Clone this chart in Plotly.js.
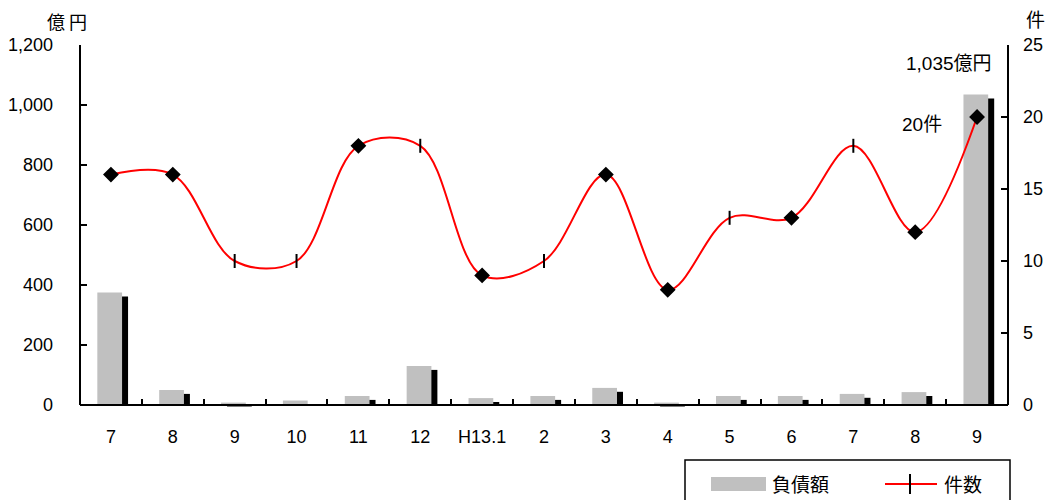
<!DOCTYPE html>
<html><head><meta charset="utf-8">
<script src="https://cdn.plot.ly/plotly-3.0.1.min.js"></script>
<style>body{margin:0;background:#fff}</style></head>
<body><div id="chart" style="width:1048px;height:500px"></div>
<script>
// ---- data ----
const months = ['7','8','9','10','11','12','H13.1','2','3','4','5','6','7','8','9'];
const debt = [375, 50, 8, 15, 30, 130, 23, 30, 57, 8, 30, 30, 37, 43, 1035];   // 負債額 (億円)
const counts = [16, 16, 10, 10, 18, 18, 9, 10, 16, 8, 13, 13, 18, 12, 20];      // 件数
const countSymbols = ['diamond','diamond','line-ns','line-ns','diamond','line-ns','diamond','line-ns','diamond','diamond','line-ns','diamond','line-ns','diamond','diamond'];
const leftTicks = [0, 200, 400, 600, 800, 1000, 1200];
const rightTicks = [0, 5, 10, 15, 20, 25];

// ---- geometry helpers (plot area in px) ----
const L = 80, R = 1008, T = 45, B = 411;
const W = R - L, H = B - T;
const px = x => (x - L) / W;
const py = y => (B - y) / H;
const idx = months.map((_, i) => i);
const shadowDrop = 13;           // shadow offset in 億円 (≈4px)
const shadow = debt.map(v => v - shadowDrop);

const FONT = 'Arial, "Liberation Sans", "Noto Sans CJK JP", sans-serif';
const JFONT = '"Noto Sans CJK JP", Arial, sans-serif';

const traces = [
  {type:'bar', x: idx, y: shadow, yaxis:'y', width:0.4, offset:-0.22 + 6/62,
   marker:{color:'#000', line:{width:0}}, showlegend:false, hoverinfo:'skip'},
  {type:'bar', x: idx, y: debt, yaxis:'y', width:0.4, offset:-0.22, name:'負債額',
   marker:{color:'#c0c0c0', line:{width:0}}, showlegend:false},
  {type:'scatter', mode:'lines+markers', x: idx, y: counts, yaxis:'y2', name:'件数',
   line:{color:'#ff0000', width:2, shape:'spline', smoothing:1},
   marker:{symbol: countSymbols, size:10, color:'#000', line:{color:'#000', width:2}},
   showlegend:false, cliponaxis:false}
];

const shapes = [
  {type:'line', xref:'paper', yref:'y', x0:0, x1:0, y0:0, y1:1200, line:{color:'#000', width:2}},
  {type:'line', xref:'paper', yref:'y2', x0:1, x1:1, y0:0, y1:25, line:{color:'#000', width:2}},
  // legend box
  {type:'rect', xref:'paper', yref:'paper', x0:px(685), x1:px(1010), y0:py(460), y1:py(510), line:{color:'#000', width:1.5}, fillcolor:'rgba(0,0,0,0)'},
  {type:'rect', xref:'paper', yref:'paper', x0:px(711), x1:px(766), y0:py(477), y1:py(491), line:{width:0}, fillcolor:'#c0c0c0'},
  {type:'line', xref:'paper', yref:'paper', x0:px(885), x1:px(937), y0:py(484), y1:py(484), line:{color:'#ff0000', width:2}},
  {type:'line', xref:'paper', yref:'paper', x0:px(910), x1:px(910), y0:py(474), y1:py(494), line:{color:'#000', width:2}}
];

const ann = (x, y, text, family, size, xanchor) => ({xref:'paper', yref:'paper', x:px(x), y:py(y), text,
  showarrow:false, xanchor: xanchor || 'center', yanchor:'middle', font:{family, size, color:'#000'}});

const annotations = [
  ann(67, 21, '億 円', JFONT, 18),
  ann(1035, 18, '件', JFONT, 19),
  ann(949, 64, '1,035億円', FONT, 19),
  ann(922, 124, '20件', FONT, 19),
  ann(770, 484, '負債額', JFONT, 19, 'left'),
  ann(942, 484, '件数', JFONT, 19, 'left')
];

const layout = {
  width:1048, height:500,
  margin:{l:L, r:1048-R, t:T, b:500-B, pad:0},
  paper_bgcolor:'#fff', plot_bgcolor:'#fff',
  barmode:'overlay', showlegend:false,
  font:{family:FONT, size:18, color:'#000'},
  xaxis:{range:[-0.5, 14.5], tickmode:'array', tickvals: idx, ticktext: months,
    ticks:'', showgrid:false, zeroline:false, showline:true, linecolor:'#000', linewidth:2,
    anchor:'free', position: 6/H,
    minor:{tick0:0.5, dtick:1, ticks:'inside', ticklen:5, tickwidth:2, tickcolor:'#000', showgrid:false},
    tickfont:{size:18}, ticklabelstandoff:15},
  yaxis:{range:[-20, 1200], tickmode:'array', tickvals:leftTicks, tickformat:',d',
    ticks:'inside', ticklen:7, tickwidth:2, tickcolor:'#000', showline:false, showgrid:false, zeroline:false,
    tickfont:{size:18}, ticklabelstandoff:26},
  yaxis2:{overlaying:'y', side:'right', range:[-20/48, 25], tickmode:'array', tickvals:rightTicks,
    ticks:'inside', ticklen:7, tickwidth:2, tickcolor:'#000', showline:false, showgrid:false, zeroline:false,
    tickfont:{size:18}, ticklabelstandoff:14},
  shapes, annotations
};

Plotly.newPlot('chart', traces, layout, {displayModeBar:false, staticPlot:true});
</script></body></html>
